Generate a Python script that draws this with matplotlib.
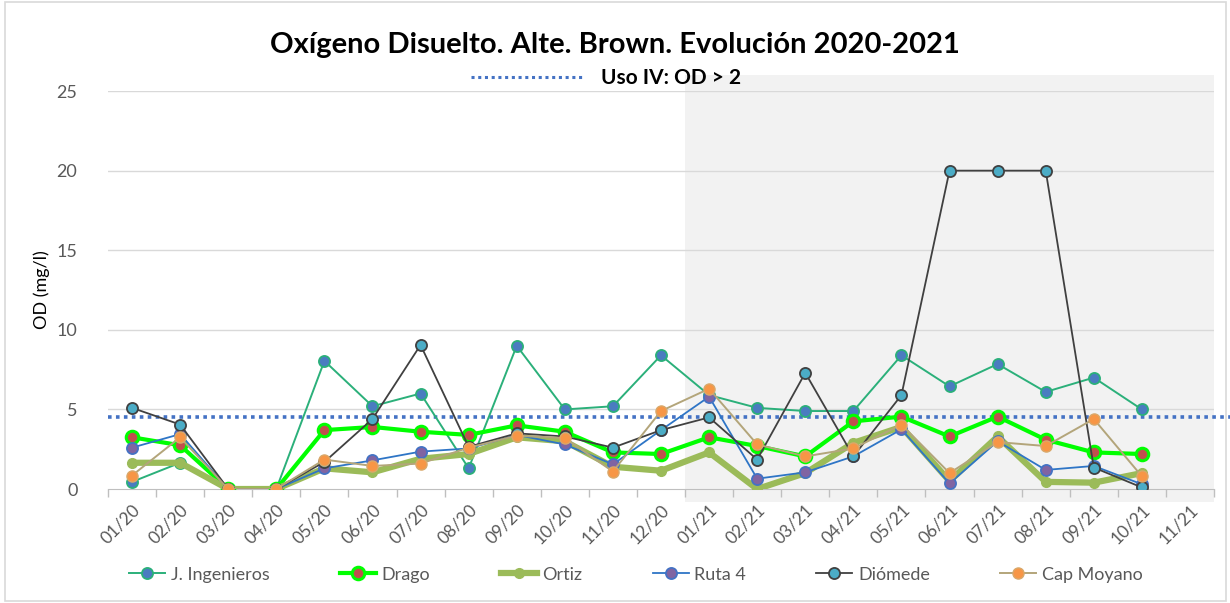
import numpy as np
import matplotlib.pyplot as plt
from matplotlib.patches import Rectangle
from matplotlib.lines import Line2D

# Meses 01/20 .. 11/21
meses = ['01/20', '02/20', '03/20', '04/20', '05/20', '06/20', '07/20', '08/20',
         '09/20', '10/20', '11/20', '12/20', '01/21', '02/21', '03/21', '04/21',
         '05/21', '06/21', '07/21', '08/21', '09/21', '10/21', '11/21']

nan = np.nan
ingenieros = [0.45, 1.65, 0, 0, 8.05, 5.2, 6.0, 1.3, 9.0, 5.0, 5.2, 8.4,
              5.9, 5.1, 4.9, 4.9, 8.4, 6.45, 7.85, 6.1, 7.0, 5.0, nan]
drago = [3.25, 2.75, 0, 0, 3.7, 3.9, 3.6, 3.4, 4.0, 3.6, 2.3, 2.2,
         3.25, 2.7, 2.05, 4.25, 4.55, 3.3, 4.55, 3.1, 2.3, 2.2, nan]
ortiz = [1.65, 1.65, 0, 0, 1.3, 1.05, 1.9, 2.2, 3.25, 3.0, 1.4, 1.15,
         2.3, 0.0, 1.0, 2.9, 3.9, 0.5, 3.3, 0.45, 0.4, 1.0, nan]
ruta4 = [2.6, 3.45, 0, 0, 1.3, 1.8, 2.35, 2.55, 3.4, 2.8, 1.55, 3.7,
         5.8, 0.65, 1.05, 2.05, 3.75, 0.35, 3.0, 1.2, 1.45, 0.3, nan]
diomede = [5.1, 4.05, 0, 0, 1.7, 4.4, 9.05, 2.65, 3.5, 3.3, 2.6, 3.7,
           4.5, 1.85, 7.3, 2.05, 5.9, 20, 20, 20, 1.35, 0.1, nan]
cap_moyano = [0.85, 3.25, 0, 0, 1.85, 1.45, 1.6, 2.6, 3.35, 3.2, 1.1, 4.9,
              6.3, 2.8, 2.05, 2.55, 4.05, 1.0, 2.95, 2.7, 4.4, 0.8, nan]

limite_uso_iv = 4.5

series = [
    ('J. Ingenieros', ingenieros, dict(color='#2bb07a', lw=1.4, marker='o', ms=8,
                                       mfc='#4a7cc0', mec='#2bb07a', mew=1.3)),
    ('Drago', drago, dict(color='#00ff00', lw=3.0, marker='o', ms=9,
                          mfc='#c0504d', mec='#00ff00', mew=2.2)),
    ('Ortiz', ortiz, dict(color='#9bbb59', lw=4.5, marker='o', ms=7,
                          mfc='#9bbb59', mec='#9bbb59', mew=1.0)),
    ('Ruta 4', ruta4, dict(color='#2e75c6', lw=1.3, marker='o', ms=8,
                           mfc='#8064a2', mec='#4472c4', mew=1.3)),
    ('Diómede', diomede, dict(color='#404040', lw=1.3, marker='o', ms=8,
                              mfc='#4bacc6', mec='#404040', mew=1.3)),
    ('Cap Moyano', cap_moyano, dict(color='#b3a57a', lw=1.4, marker='o', ms=8,
                                    mfc='#f79646', mec='#d9a86a', mew=1.0)),
]

plt.rcParams['font.family'] = ['Lato', 'DejaVu Sans']

fig = plt.figure(figsize=(12.3, 6.03), dpi=100)
ax = fig.add_axes([0.0878, 0.189, 0.8992, 0.66])

x = np.arange(len(meses))

# zona sombreada 2021
ax.add_patch(Rectangle((11.5, -0.8), 11.0, 26.8, facecolor='#f2f2f2',
                       edgecolor='none', zorder=0, clip_on=False))

for y in [5, 10, 15, 20, 25]:
    ax.axhline(y, color='#d9d9d9', lw=1.0, zorder=1)

ax.plot([-0.5, 23.2], [limite_uso_iv, limite_uso_iv], color='#4472c4', lw=2.6,
        ls=(0, (1, 1.2)), zorder=2, clip_on=False)

for nombre, valores, estilo in series:
    ax.plot(x, valores, label=nombre, zorder=3, **estilo)

ax.set_xlim(-0.5, len(meses) - 0.5)
ax.set_ylim(0, 25)
ax.set_yticks([0, 5, 10, 15, 20, 25])
ax.set_xticks(x)
ax.set_xticklabels(meses, rotation=45, ha='right', rotation_mode='anchor',
                   fontsize=12.5, color='#595959')
ax.set_xticks(np.arange(-0.5, len(meses)), minor=True)
ax.tick_params(axis='x', which='major', length=0, pad=9)
ax.tick_params(axis='x', which='minor', length=6, color='#bfbfbf', width=1)
ax.tick_params(axis='y', length=0, labelsize=13, labelcolor='#595959', pad=22)
for lado in ['left', 'right', 'top']:
    ax.spines[lado].set_visible(False)
ax.spines['bottom'].set_color('#bfbfbf')
ax.set_facecolor('none')

ax.set_ylabel('OD (mg/l)', fontsize=13, color='black', labelpad=5)

fig.text(0.5, 0.925, 'Oxígeno Disuelto. Alte. Brown. Evolución 2020-2021',
         ha='center', va='center', fontsize=21, fontweight='bold')
fig.add_artist(Line2D([0.383, 0.474], [0.872, 0.872], color='#4472c4', lw=2.2,
                      ls=(0, (1, 1.2))))
fig.text(0.489, 0.870, 'Uso IV: OD > 2', ha='left', va='center', fontsize=15,
         fontweight='bold')

fig.legend(loc='center', bbox_to_anchor=(0.517, 0.047), ncol=6, frameon=False,
           fontsize=13, handlelength=2.0, columnspacing=3.9, handletextpad=0.3,
           labelcolor='#595959')

fig.add_artist(Rectangle((0.004, 0.003), 0.993, 0.994, transform=fig.transFigure,
                         facecolor='none', edgecolor='#d9d9d9', lw=1.2))

fig.savefig('out.png', dpi=100)
